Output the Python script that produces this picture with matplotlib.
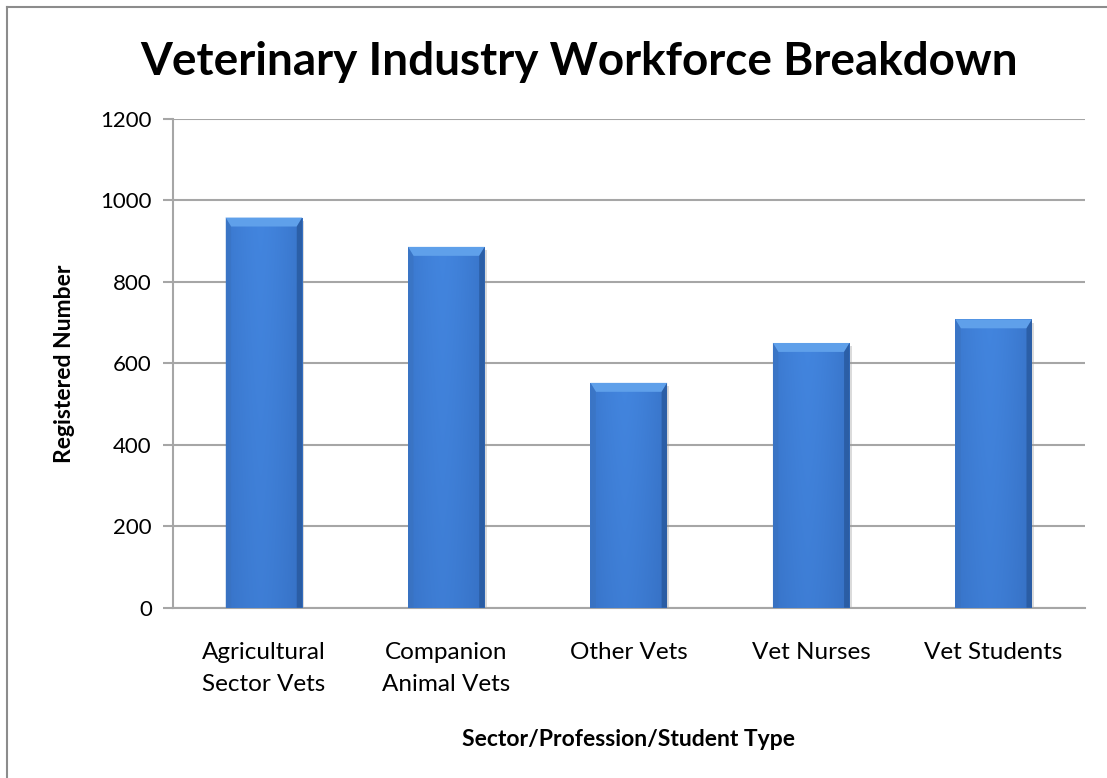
import matplotlib.pyplot as plt
import numpy as np
from matplotlib.lines import Line2D

plt.rcParams['font.family'] = ['Lato', 'DejaVu Sans']

categories = ['Agricultural\nSector Vets', 'Companion\nAnimal Vets', 'Other Vets',
              'Vet Nurses', 'Vet Students']
values = [958, 886, 552, 650, 708]
y_ticks = [0, 200, 400, 600, 800, 1000, 1200]

fig = plt.figure(figsize=(11.07, 7.78), dpi=100)
ax = fig.add_axes([0.156, 0.219, 0.824, 0.628])

# bevelled blue bars: colour gradient across each bar, lighter strip on top
width = 0.42
x = np.arange(len(categories))
grad = np.linspace(0, 1, 64)
across = 1 - 0.35 * (np.abs(grad - 0.45) / 0.55) ** 1.5
dark = np.array([0.15, 0.34, 0.64])
light = np.array([0.26, 0.52, 0.87])

for xi, v in zip(x, values):
    left = xi - width / 2
    # soft shadow
    ax.bar(xi + 0.012, v, width, bottom=-8, color='#9a9a9a', alpha=0.35, zorder=2)
    bar = ax.bar(xi, v, width, color='#3b78c8', zorder=3)[0]
    vert = np.linspace(0.85, 1.0, 64)[:, None]
    img = dark + (light - dark) * (across[None, :, None] * vert[:, :, None])
    im = ax.imshow(np.clip(img, 0, 1), extent=[left, left + width, 0, v],
                   aspect='auto', origin='lower', zorder=3.5, interpolation='bilinear')
    im.set_clip_path(bar)
    # top bevel and darker side edges
    bev = 22
    ax.fill([left, left + width, left + width - 0.03, left + 0.03],
            [v, v, v - bev, v - bev], color='#5fa0ea', zorder=4, lw=0)
    ax.fill([left, left + 0.03, left + 0.03, left],
            [v, v - bev, 0, 0], color='#3a72bd', zorder=4, lw=0, alpha=0.5)
    ax.fill([left + width, left + width - 0.03, left + width - 0.03, left + width],
            [v, v - bev, 0, 0], color='#23508f', zorder=4, lw=0, alpha=0.6)

ax.set_xlim(-0.5, len(categories) - 0.5)
ax.set_ylim(0, 1200)
ax.set_yticks(y_ticks)
ax.set_xticks(x)
ax.set_xticklabels(categories, fontsize=17.5, linespacing=1.6)
ax.tick_params(axis='y', labelsize=16, length=7, width=1.5, color='#a6a6a6', pad=8)
ax.tick_params(axis='x', length=0, pad=25)

ax.grid(axis='y', color='#a6a6a6', linewidth=1.5, zorder=0)
ax.set_axisbelow(True)
for s in ['top', 'right']:
    ax.spines[s].set_visible(False)
for s in ['left', 'bottom']:
    ax.spines[s].set_color('#a6a6a6')
    ax.spines[s].set_linewidth(1.5)

ax.set_ylabel('Registered Number', fontsize=16.5, fontweight='bold', labelpad=18)
ax.set_xlabel('Sector/Profession/Student Type', fontsize=16.5, fontweight='bold', labelpad=25)
fig.text(0.523, 0.92, 'Veterinary Industry Workforce Breakdown', fontsize=33,
         fontweight='bold', ha='center', va='center')

# outer chart border (top and left edges)
fig.add_artist(Line2D([0.0063, 1.0], [0.991, 0.991], color='#8c8c8c', lw=1.5))
fig.add_artist(Line2D([0.0063, 0.0063], [0.0, 0.991], color='#8c8c8c', lw=1.5))

fig.savefig('out.png', dpi=100)
